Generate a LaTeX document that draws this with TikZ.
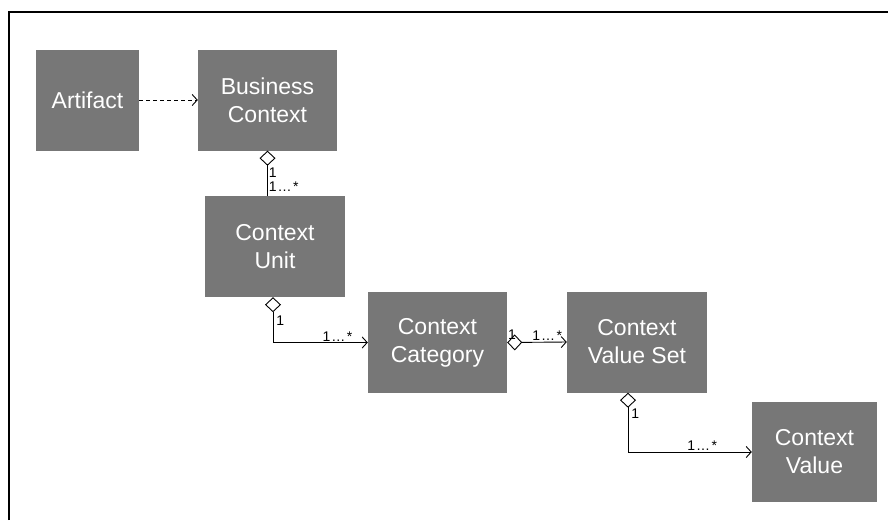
\documentclass[tikz,border=0pt]{standalone}
\usepackage{fontspec}
\setmainfont{Liberation Sans}
\usetikzlibrary{arrows.meta}
\definecolor{boxgray}{HTML}{777777}
\newcommand{\many}{1\kern1pt…\kern1.5pt*}

\begin{document}
\begin{tikzpicture}[x=1pt,y=-1pt,
    cls/.style={fill=boxgray, text=white, align=center, minimum height=101pt,
        font=\fontsize{23}{28}\selectfont, inner sep=0pt},
    lbl/.style={font=\fontsize{14}{15}\selectfont, inner sep=1pt},
    agg/.style={line width=0.9pt, {Diamond[open,length=15pt,width=16pt]}-{Straight Barb[length=5pt,width=11pt]}},
    dep/.style={line width=0.9pt, dash pattern=on 4pt off 3pt, -{Straight Barb[length=5pt,width=11pt]}}]
    \useasboundingbox (0,0) rectangle (888,520);
    \draw[line width=2pt] (9,520) -- (9,12) -- (888,12);
    % classes
    \node[cls, minimum width=103pt] (artifact) at (87.5,100) {Artifact};
    \node[cls, minimum width=139pt] (busctx) at (267.5,100) {Business\\Context};
    \node[cls, minimum width=140pt] (unit) at (275,246.5) {Context\\Unit};
    \node[cls, minimum width=139pt] (category) at (437.5,342.5) {Context\\Category};
    \node[cls, minimum width=140pt] (valset) at (637,342) {Context\\Value Set};
    \node[cls, minimum width=125pt, minimum height=100pt] (value) at (814.5,452) {Context\\Value};
    % relations
    \draw[dep] (artifact) -- (busctx);
    \draw[line width=0.9pt, {Diamond[open,length=15pt,width=16pt]}-] (busctx.south)
        -- node[lbl, pos=0.49, anchor=west] (m1) {1}
        node[lbl, pos=0.8, anchor=west] (m2) {\many} (busctx.south |- unit.north);
    \draw[agg] ([xshift=-2pt]unit.south) |- node[lbl, pos=0.26, anchor=west, xshift=2pt] (m3) {1}
        node[lbl, pos=0.84, above] (m4) {\many} (category.west);
    \draw[agg] (category.east) -- node[lbl, pos=0.08, above, yshift=2pt] (m5) {1}
        node[lbl, pos=0.67, above] (m6) {\many} (valset.west);
    \draw[agg] ([xshift=-9pt]valset.south) |- node[lbl, pos=0.18, anchor=west, xshift=2pt] (m7) {1}
        node[lbl, pos=0.8, above] (m8) {\many} (value.west);
\end{tikzpicture}
\end{document}
